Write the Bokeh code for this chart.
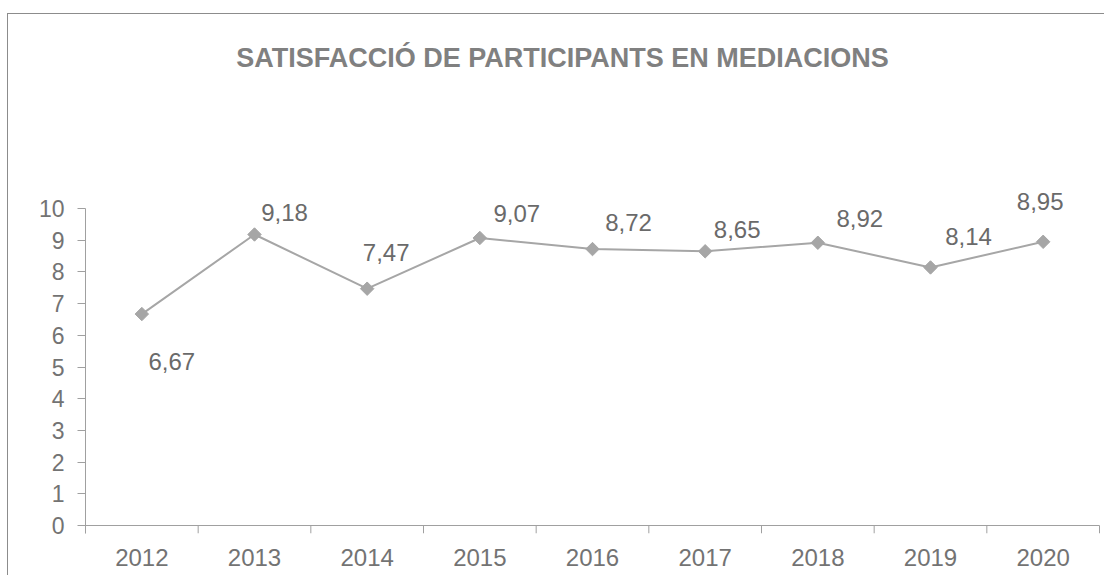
from math import pi
from bokeh.plotting import figure
from bokeh.models import (ColumnDataSource, Range1d, LinearAxis, FixedTicker, LabelSet, Label)
from bokeh.core.properties import value
from bokeh.embed import file_html
from bokeh.resources import INLINE

# ---- data ----
title_text = "SATISFACCIÓ DE PARTICIPANTS EN MEDIACIONS"
years = ["2012", "2013", "2014", "2015", "2016", "2017", "2018", "2019", "2020"]
scores = [6.67, 9.18, 7.47, 9.07, 8.72, 8.65, 8.92, 8.14, 8.95]
y_ticks = [0, 1, 2, 3, 4, 5, 6, 7, 8, 9, 10]

# ---- label placement (screen px offsets from each point) ----
label_dx = [30, 30, 19, 37, 36, 32, 42, 38, -3]
label_dy = [-56, 13, 28, 16, 18, 13, 16, 22, 32]

FONT = "Liberation Sans"
LINE_C = "#a6a6a6"
AXIS_C = "#a0a0a0"
TICK_TXT = "#737373"
LBL_TXT = "#6a6a6a"

# ---- layout geometry (pixels) ----
W, H = 1097, 562
B_LEFT, B_RIGHT, B_TOP, B_BOTTOM = 77, 3, 0, 43
SLOT_PX = 1014 / len(years)     # width of one category slot
PX_PER_UNIT = 31.7              # vertical pixels per score unit
TICK_LEN = 8
TITLE_CX = 554                  # title centre, px from left of canvas
TITLE_BASE = 43                 # title baseline, px from top of canvas

frame_w = W - B_LEFT - B_RIGHT
frame_h = H - B_TOP - B_BOTTOM
y_lo = -TICK_LEN / PX_PER_UNIT
y_hi = y_lo + frame_h / PX_PER_UNIT
x_hi = frame_w / SLOT_PX

# category slot centres (category i occupies [i, i+1])
xpos = [i + 0.5 for i in range(len(years))]
bounds_x = list(range(len(years) + 1))

src = ColumnDataSource(dict(
    x=xpos,
    score=scores,
    label=[f"{v:.2f}".replace(".", ",") for v in scores],
    dx=label_dx,
    dy=label_dy,
))

p = figure(width=W, height=H,
           x_range=Range1d(0, x_hi),
           y_range=Range1d(y_lo, y_hi),
           output_backend="svg", toolbar_location=None,
           x_axis_location=None, y_axis_location="left",
           title_location=None,
           min_border_left=B_LEFT, min_border_right=B_RIGHT,
           min_border_top=B_TOP, min_border_bottom=B_BOTTOM)
p.margin = (13, 0, 0, 7)
p.styles = {"border-top": "1px solid #8c8c8c", "border-left": "1px solid #8c8c8c"}
p.outline_line_color = None
p.grid.visible = False
p.background_fill_color = "white"
p.border_fill_color = "white"

# y axis (line only from the tick stub below 0 up to 10)
yax = p.yaxis[0]
yax.ticker = FixedTicker(ticks=y_ticks)
yax.bounds = (y_lo, y_ticks[-1])
yax.major_tick_in = 0
yax.major_tick_out = TICK_LEN
yax.minor_tick_line_color = None
yax.axis_line_color = AXIS_C
yax.major_tick_line_color = AXIS_C
yax.major_label_text_font = FONT
yax.major_label_text_font_size = "23px"
yax.major_label_text_color = TICK_TXT
yax.major_label_standoff = 13

# x axis: category labels at slot centres
cat_axis = LinearAxis(ticker=FixedTicker(ticks=xpos),
                      major_label_overrides={x: y for x, y in zip(xpos, years)},
                      major_tick_line_color=None, minor_tick_line_color=None,
                      major_tick_in=0, major_tick_out=0,
                      axis_line_color=None,
                      major_label_text_font=FONT,
                      major_label_text_font_size="24px",
                      major_label_text_color=TICK_TXT,
                      major_label_standoff=15)
p.add_layout(cat_axis, "below")

# x axis line at 0 and boundary ticks between categories
p.segment(x0=[bounds_x[0]], y0=[0], x1=[bounds_x[-1]], y1=[0],
          line_color=AXIS_C, line_width=1)
p.segment(x0=bounds_x, y0=[0] * len(bounds_x), x1=bounds_x, y1=[y_lo] * len(bounds_x),
          line_color=AXIS_C, line_width=1)

# series
p.line(x="x", y="score", source=src, line_color=LINE_C, line_width=2)
p.scatter(x="x", y="score", source=src, marker="square", angle=pi / 4,
          size=9.5, fill_color=LINE_C, line_color=LINE_C)

labels = LabelSet(x="x", y="score", text="label", source=src,
                  x_offset="dx", y_offset="dy",
                  text_align="center", text_baseline="alphabetic",
                  text_font=value(FONT), text_font_size="24px",
                  text_color=LBL_TXT)
p.add_layout(labels)

# chart title (drawn inside the tall frame, above the value area)
p.add_layout(Label(x=(TITLE_CX - B_LEFT) / SLOT_PX,
                   y=y_hi - (TITLE_BASE - B_TOP) / PX_PER_UNIT,
                   text=title_text, text_align="center", text_baseline="alphabetic",
                   text_font=FONT, text_font_size="27px", text_font_style="bold",
                   text_color="#808080"))

open("out.html", "w").write(file_html(p, INLINE))
